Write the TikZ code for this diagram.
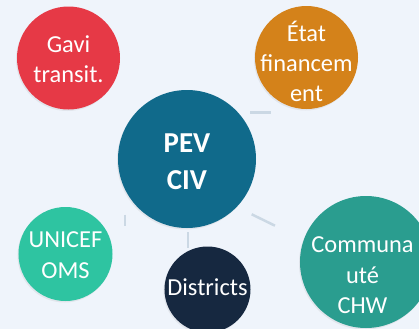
\documentclass[tikz,border=0pt]{standalone}
\usepackage{fontspec}
\setmainfont{Carlito}
\usetikzlibrary{shadows}
\definecolor{bgc}{HTML}{EFF4FB}
\definecolor{linec}{HTML}{CBD8E4}
\definecolor{cpev}{HTML}{106A8B}
\definecolor{cgavi}{HTML}{E63946}
\definecolor{cetat}{HTML}{D4821A}
\definecolor{cunicef}{HTML}{2EC4A1}
\definecolor{cdist}{HTML}{162840}
\definecolor{ccomm}{HTML}{2A9D8F}
\tikzset{
  bubble/.style={circle, inner sep=0pt, minimum size=#1, draw=none,
    drop shadow={opacity=0.12, shadow xshift=-1bp, shadow yshift=-1.5bp}},
  btext/.style={text=white, align=center, font=\fontsize{24.5}{30.5}\selectfont, inner sep=0pt},
  stub/.style={draw=linec, line width=2.5bp}
}
\begin{document}
\begin{tikzpicture}[x=1bp,y=-1bp]
\useasboundingbox (0,0) rectangle (419,329);
\fill[bgc] (0,0) rectangle (419,329);
% connector stubs
\coordinate (s1a) at (250,112.3); \coordinate (s1b) at (271,112.3);
\coordinate (s2a) at (251.7,214.3); \coordinate (s2b) at (275,225.7);
\coordinate (s3a) at (124.8,214.5); \coordinate (s3b) at (124.8,226);
\coordinate (s4a) at (188,232); \coordinate (s4b) at (188,248);
\draw[stub] (s1a) -- (s1b);
\draw[stub] (s2a) -- (s2b);
\draw[stub] (s3a) -- (s3b);
\draw[stub] (s4a) -- (s4b);
% circles
\node[bubble=103bp, fill=cgavi] (gavi) at (68.5,58) {};
\node[bubble=103bp, fill=cetat] (etat) at (306.5,57.5) {};
\node[bubble=138bp, fill=cpev] (pev) at (187,159) {};
\node[bubble=94bp, fill=cunicef] (unicef) at (65.5,254) {};
\node[bubble=86bp, fill=cdist] (dist) at (207.5,289.5) {};
\node[bubble=132bp, fill=ccomm] (comm) at (366,262) {};
% texts
\node[btext] (gavit) at (68.5,59.5) {Gavi\\transit.};
\node[btext] (etatt) at (306.5,61.5) {État\\financem\\ent};
\node[btext, font=\bfseries\fontsize{29}{37}\selectfont] (pevt) at (187,161.5) {PEV\\CIV};
\node[btext] (uniceft) at (65.5,255) {UNICEF\\OMS};
\node[btext] (distt) at (207.5,287.5) {Districts};
\node[btext] (commt) at (362.5,275.5) {Communa\\uté\\CHW};
\end{tikzpicture}
\end{document}
